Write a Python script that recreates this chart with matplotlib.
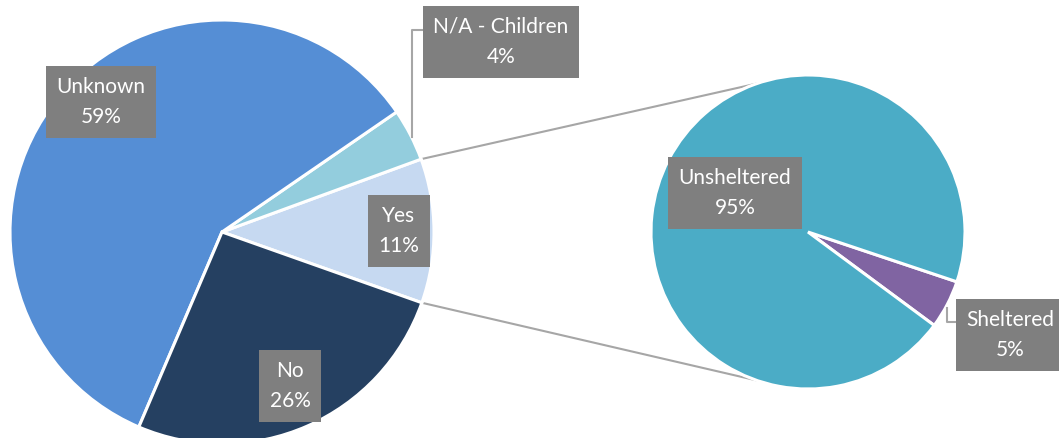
import numpy as np
import matplotlib
matplotlib.use("Agg")
import matplotlib.pyplot as plt

# ---- data ----
main_labels = ["Yes", "N/A - Children", "Unknown", "No"]
main_values = [11, 4, 59, 26]
main_colors = ["#C6D9F1", "#93CDDD", "#558ED5", "#254061"]

sub_labels = ["Sheltered", "Unsheltered"]
sub_values = [5, 95]
sub_colors = ["#8064A2", "#4BACC6"]

W, H = 1059, 438
plt.rcParams['font.family'] = ['Lato', 'DejaVu Sans']

fig = plt.figure(figsize=(W / 100, H / 100), dpi=100)
ax = fig.add_axes([0, 0, 1, 1])

def P(x, y):
    """pixel (top-left origin) -> data (y up)"""
    return (x, H - y)

# layout
c1, r1 = P(222, 232), 212
c2, r2 = P(808, 232), 157

w1, _ = ax.pie(main_values, colors=main_colors, startangle=-19.5, counterclock=True,
               center=c1, radius=r1, frame=True,
               wedgeprops=dict(edgecolor="white", linewidth=2.2))
w2, _ = ax.pie(sub_values, colors=sub_colors, startangle=-36.5, counterclock=True,
               center=c2, radius=r2, frame=True,
               wedgeprops=dict(edgecolor="white", linewidth=2.2))

# connector lines between the "Yes" slice and the secondary pie
yes = w1[0]
line_col = "#A6A6A6"
for th1, th2 in [(yes.theta2, 109), (yes.theta1, 251)]:
    a1, a2 = np.radians(th1), np.radians(th2)
    p1 = (c1[0] + r1 * np.cos(a1), c1[1] + r1 * np.sin(a1))
    p2 = (c2[0] + r2 * np.cos(a2), c2[1] + r2 * np.sin(a2))
    ax.plot([p1[0], p2[0]], [p1[1], p2[1]], color=line_col, lw=1.5, zorder=0.5)

# leader lines for outside labels
ax.plot(*zip(P(412, 137), P(412, 30), P(424, 30)), color=line_col, lw=1.5)
ax.plot(*zip(P(947, 308), P(947, 322), P(956, 322)), color=line_col, lw=1.5)

# labels (pixel centers)
main_pos = [(399, 231), (501, 42), (101, 102), (290, 386)]
sub_pos = [(1010, 335), (735, 193)]
box = dict(boxstyle="square,pad=0.5", facecolor="#7F7F7F", edgecolor="none")
for lab, v, pos in list(zip(main_labels, main_values, main_pos)) + list(zip(sub_labels, sub_values, sub_pos)):
    ax.text(*P(*pos), f"{lab}\n{v}%", ha="center", va="center", color="white",
            fontsize=15, linespacing=1.65, bbox=box, zorder=5)

ax.set_xlim(0, W)
ax.set_ylim(0, H)
ax.set_aspect("equal")
ax.axis("off")
fig.savefig("out.png", dpi=100)
